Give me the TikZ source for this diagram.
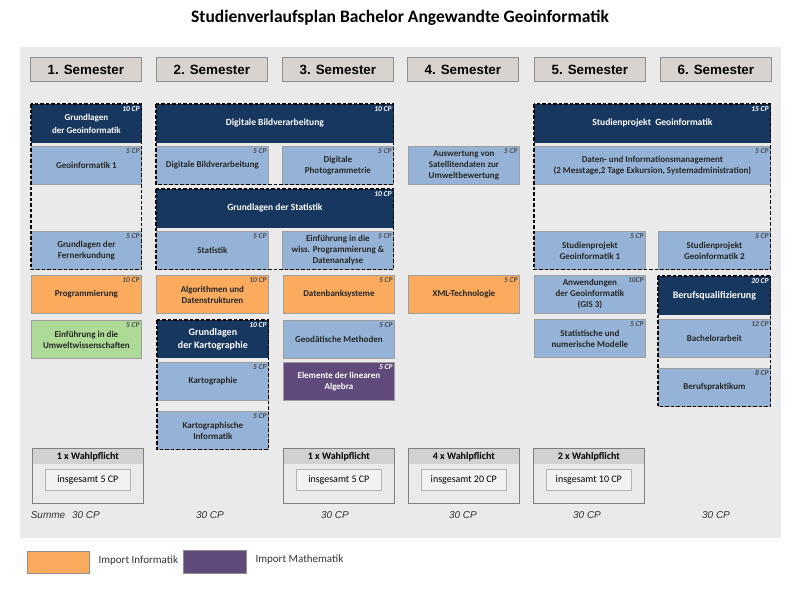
\documentclass[tikz,border=0pt]{standalone}
\usepackage{fontspec}
\setmainfont{Carlito}
\newfontfamily\arialfont{Liberation Sans}
\usepackage{tikz}
\usetikzlibrary{positioning}

\definecolor{navy}{HTML}{17375E}
\definecolor{lblue}{HTML}{95B3D7}
\definecolor{orng}{HTML}{FAAB5E}
\definecolor{grn}{HTML}{ADDB97}
\definecolor{purp}{HTML}{604A7B}
\definecolor{panel}{HTML}{EAEAEA}
\definecolor{semfill}{HTML}{D8D3CE}
\definecolor{frame}{HTML}{8E8E8E}

\begin{document}
\begin{tikzpicture}[
x=1pt,y=-1pt,
sem/.style={
  draw=frame,
  fill=semfill,
  line width=0.8pt,
  minimum width=111pt,
  minimum height=24pt,
  anchor=north west,
  inner sep=0pt,
  font=\arialfont\bfseries\fontsize{13.4}{15}\selectfont
  },
mod/.style={
  draw=black!38,
  fill=lblue,
  line width=0.8pt,
  minimum width=111pt,
  minimum height=38pt,
  anchor=north west,
  align=center,
  inner sep=1pt,
  text=black!85,
  font=\bfseries\fontsize{9}{11}\selectfont
  },
inf/.style={mod, fill=orng},
umw/.style={mod, fill=grn},
mat/.style={mod, fill=purp, text=white},
head/.style={
  mod,
  draw=navy,
  fill=navy,
  text=white,
  font=\bfseries\fontsize{9.5}{13}\selectfont
  },
grp/.style={
  fill=panel,
  anchor=north west,
  inner sep=0pt
  },
dashbox/.style={
  draw=black,
  line width=1.5pt,
  dash pattern=on 3.5pt off 2pt
  },
cplab/.style={
  anchor=north east,
  inner sep=2pt,
  font=\bfseries\itshape\fontsize{7.5}{8}\selectfont,
  text=black!70
  },
cp/.style={label={[cplab]north east:#1}},
cpw/.style={label={[cplab, text=white]north east:#1}},
wp/.style={
  draw=black!50,
  line width=1.2pt,
  fill=panel,
  minimum width=111pt,
  minimum height=55pt,
  anchor=north west,
  inner sep=0pt
  },
wphead/.style={
  fill=black!18,
  minimum width=110pt,
  minimum height=15pt,
  anchor=north west,
  inner sep=0pt,
  font=\bfseries\fontsize{10}{11}\selectfont
  },
wpin/.style={
  draw=black!30,
  fill=black!5,
  minimum width=85pt,
  minimum height=21pt,
  inner sep=2pt,
  font=\fontsize{10}{11}\selectfont
  },
summe/.style={
  font=\arialfont\itshape\fontsize{10}{12}\selectfont,
  text=black!80
  }
]

\useasboundingbox (0,0) rectangle (800,600);

% title and panel
\node[font=\bfseries\fontsize{17.5}{20}\selectfont] (title) at (400,18)
  {Studienverlaufsplan Bachelor Angewandte Geoinformatik};
\fill[panel] (20,47) rectangle (781,538);

\foreach \sx [count=\n] in {30,156,282,407,534,660}
  \node[sem] (sem\n) at (\sx,57) {\n. Semester};

% 1. Semester
\node[grp, minimum width=110pt, minimum height=165pt] (ggeo) at (31,104) {};
\node[head, minimum width=110pt, cpw=10 CP, font=\bfseries\fontsize{9}{13}\selectfont] (hgeo) at (31,104) {Grundlagen\\der Geoinformatik};
\node[mod, minimum width=110pt, cp=5 CP] (mgeo) at (31,146) {Geoinformatik 1};
\node[mod, minimum width=110pt, cp=5 CP] (mfern) at (31,231) {Grundlagen der\\Fernerkundung};
\draw[dashbox] (ggeo.north west) rectangle (ggeo.south east);
\node[inf, minimum width=110pt, cp=10 CP] (mprog) at (31,275) {Programmierung};
\node[umw, minimum width=110pt, cp=5 CP] (mumw) at (31,320) {Einführung in die\\Umweltwissenschaften};

% 2. und 3. Semester
\node[grp, minimum width=237pt, minimum height=80pt] (gbild) at (156,104) {};
\node[head, minimum width=237pt, cpw=10 CP] (hbild) at (156,104) {Digitale Bildverarbeitung};
\node[mod, minimum width=112pt, cp=5 CP] (mbild) at (156,146) {Digitale Bildverarbeitung};
\node[mod, cp=5 CP] (mphoto) at (282,146) {Digitale\\Photogrammetrie};
\draw[dashbox] (gbild.north west) rectangle (gbild.south east);

\node[grp, minimum width=237pt, minimum height=80pt] (gstat) at (156,189) {};
\node[head, minimum width=237pt, cpw=10 CP] (hstat) at (156,189) {Grundlagen der Statistik};
\node[mod, minimum width=112pt, cp=5 CP] (mstat) at (156,231) {Statistik};
\node[mod, cp=5 CP] (mwiss) at (282,231) {Einführung in die\\wiss. Programmierung \&\\Datenanalyse};
\draw[dashbox] (gstat.north west) rectangle (gstat.south east);

\node[inf, minimum width=112pt, cp=10 CP] (malgo) at (156,275) {Algorithmen und\\Datenstrukturen};

\node[grp, minimum width=111pt, minimum height=129pt] (gkarto) at (157,320) {};
\node[head, minimum height=37pt, cpw=10 CP, font=\bfseries\fontsize{10}{13}\selectfont] (hkarto) at (157,320) {Grundlagen\\der Kartographie};
\node[mod, cp=5 CP] (mkarto) at (157,362) {Kartographie};
\node[mod, cp=5 CP] (mkinf) at (157,411) {Kartographische\\Informatik};
\draw[dashbox] (gkarto.north west) rectangle (gkarto.south east);

\node[inf, cp=5 CP] (mdb) at (283,275) {Datenbanksysteme};
\node[mod, cp=5 CP] (mgeod) at (283,320) {Geodätische Methoden};
\node[mat, cpw=5 CP] (malg) at (283,362) {Elemente der linearen\\Algebra};

% 4. Semester
\node[mod, cp=5 CP] (msat) at (408,146) {Auswertung von\\Satellitendaten zur\\Umweltbewertung};
\node[inf, cp=5 CP] (mxml) at (408,275) {XML-Technologie};

% 5. und 6. Semester
\node[grp, minimum width=236pt, minimum height=165pt] (gproj) at (534,104) {};
\node[head, minimum width=236pt, cpw=15 CP] (hproj) at (534,104) {Studienprojekt~~Geoinformatik};
\node[mod, minimum width=236pt, cp=5 CP] (mdaten) at (534,146) {Daten- und Informationsmanagement\\(2 Messtage,2 Tage Exkursion, Systemadministration)};
\node[mod, cp=5 CP] (mproj1) at (534,231) {Studienprojekt\\Geoinformatik 1};
\node[mod, minimum width=112pt, cp=5 CP] (mproj2) at (658,231) {Studienprojekt\\Geoinformatik 2};
\draw[dashbox] (gproj.north west) rectangle (gproj.south east);

\node[mod, cp=10CP] (manw) at (534,275) {Anwendungen\\der Geoinformatik\\(GIS 3)};
\node[mod, cp=5 CP] (mnum) at (534,319) {Statistische und\\numerische Modelle};

\node[grp, minimum width=112pt, minimum height=130pt] (gberuf) at (658,276) {};
\node[head, minimum width=112pt, cpw=20 CP, font=\bfseries\fontsize{10}{13}\selectfont] (hberuf) at (658,276) {Berufsqualifizierung};
\node[mod, minimum width=112pt, cp=12 CP] (mba) at (658,319) {Bachelorarbeit};
\node[mod, minimum width=112pt, cp=8 CP] (mprak) at (658,368) {Berufspraktikum};
\draw[dashbox] (gberuf.north west) rectangle (gberuf.south east);

% Wahlpflicht
\foreach \wx/\wn/\wt/\k in {32/1/5/1,283/1/5/3,408/4/20/4,533/2/10/5}
{
  \node[wp] (wp\k) at (\wx,448) {};
  \node[wphead] (wph\k) at ([shift={(0.6,0.6)}]wp\k.north west) {\wn\ x Wahlpflicht};
  \node[wpin, below=5pt of wph\k] (wpi\k) {insgesamt \wt\ CP};
}

% Summen
\node[summe] (summe) at (48,515) {Summe};
\foreach \cx [count=\n] in {86,210,335,463,587,716}
  \node[summe] (sum\n) at (\cx,515) {30 CP};

% Legende
\node[draw=frame, fill=orng, minimum width=62pt, minimum height=22pt, anchor=north west] (leginf) at (27,551) {};
\node[anchor=west, font=\fontsize{11}{12}\selectfont, text=black!80] (leginft) at (95,561) {Import Informatik};
\node[draw=frame, fill=purp, minimum width=63pt, minimum height=23pt, anchor=north west] (legmat) at (183,550) {};
\node[anchor=west, font=\fontsize{11}{12}\selectfont, text=black!80] (legmatt) at (252,560) {Import Mathematik};
\end{tikzpicture}
\end{document}
